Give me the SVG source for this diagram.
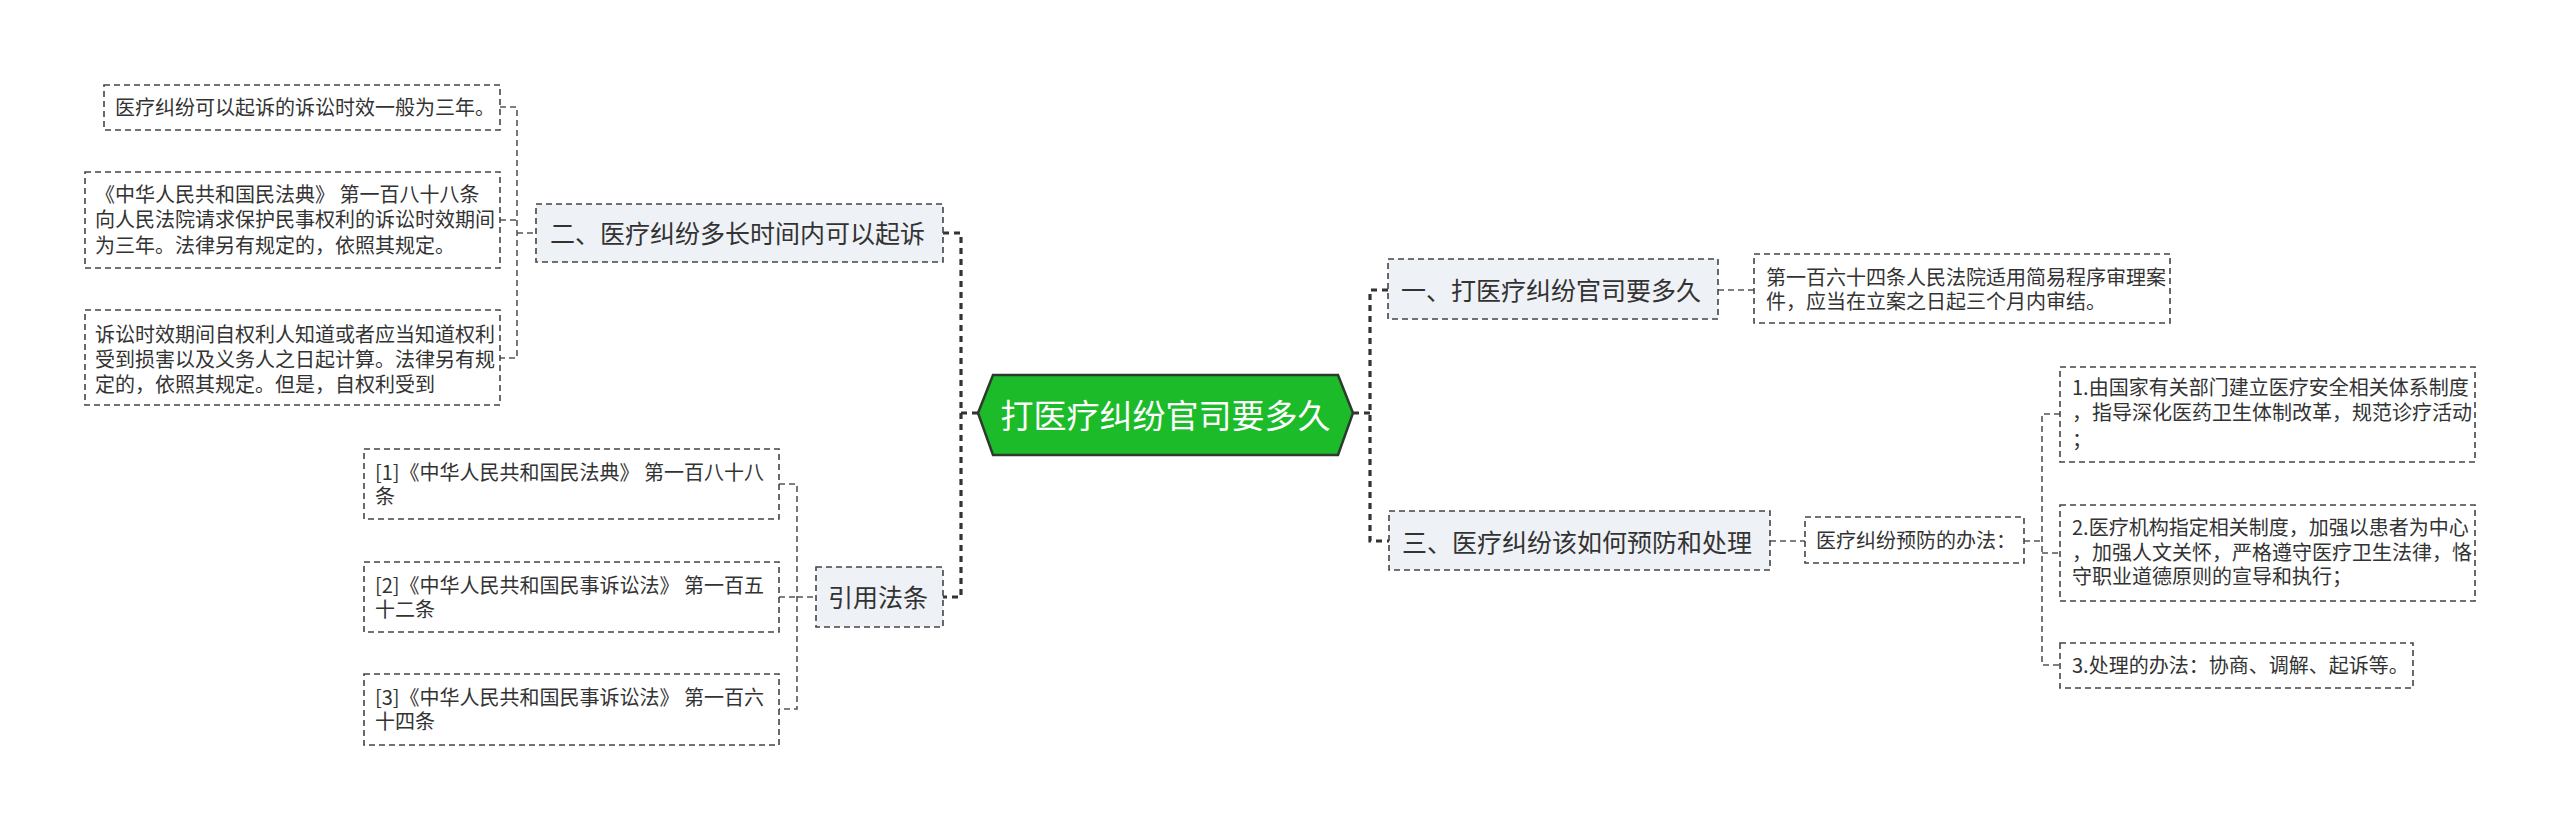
<svg xmlns="http://www.w3.org/2000/svg" width="2560" height="830" viewBox="0 0 2560 830">
<style>
text{font-family:"Noto Sans CJK SC","Noto Sans",sans-serif;fill:#333}
.l1 rect{fill:#eef1f5;stroke:#444;stroke-width:1.6;stroke-dasharray:6 4}
.leaf rect{fill:#fff;stroke:#444;stroke-width:1.6;stroke-dasharray:6 4}
.l1 text{font-size:25px}
.leaf text{font-size:20px}
.thin{fill:none;stroke:#555;stroke-width:1.6;stroke-dasharray:6 4}
.thick{fill:none;stroke:#333;stroke-width:3.2;stroke-dasharray:6 5}
</style>
<rect width="2560" height="830" fill="#fff"/>
<g id="connectors">
<path class="thick" d="M943,233 H961 V597 H943 M961,413 H978"/>
<path class="thick" d="M1353,413 H1370 M1388,290 H1370 V541 H1389"/>
<path class="thin" d="M500,107 H517 V358 H500 M500,220 H517 M517,233 H536"/>
<path class="thin" d="M779,484 H797 V709 H779 M779,597 H797 M797,597 H816"/>
<path class="thin" d="M1718,290 H1754"/>
<path class="thin" d="M1770,541 H1805"/>
<path class="thin" d="M2024,541 H2042 M2060,414 H2042 V665 H2060 M2042,553 H2060"/>
</g>
<g id="root">
<polygon points="978,413 993,375 1338,375 1353,413 1338,455 993,455" fill="#1cbb2a" stroke="#2d3a2d" stroke-width="2.5"/>
<text x="1165.5" y="428" text-anchor="middle" style="font-size:33px;fill:#fff">打医疗纠纷官司要多久</text>
</g>
<g id="n2" class="l1">
<rect x="536" y="204" width="407" height="58"/>
<text x="550" y="243">二、医疗纠纷多长时间内可以起诉</text>
</g>
<g id="n2a" class="leaf">
<rect x="104" y="85" width="396" height="45"/>
<text x="115" y="115">医疗纠纷可以起诉的诉讼时效一般为三年。</text>
</g>
<g id="n2b" class="leaf">
<rect x="85" y="172" width="415" height="96"/>
<text x="95" y="202">《中华人民共和国民法典》 第一百八十八条</text>
<text x="95" y="227">向人民法院请求保护民事权利的诉讼时效期间</text>
<text x="95" y="253">为三年。法律另有规定的，依照其规定。</text>
</g>
<g id="n2c" class="leaf">
<rect x="85" y="310" width="415" height="95"/>
<text x="95" y="342">诉讼时效期间自权利人知道或者应当知道权利</text>
<text x="95" y="367">受到损害以及义务人之日起计算。法律另有规</text>
<text x="95" y="392">定的，依照其规定。但是，自权利受到</text>
</g>
<g id="ref" class="l1">
<rect x="816" y="567" width="127" height="60"/>
<text x="828" y="607">引用法条</text>
</g>
<g id="ref1" class="leaf">
<rect x="364" y="449" width="415" height="70"/>
<text x="375" y="480">[1]《中华人民共和国民法典》 第一百八十八</text>
<text x="375" y="504">条</text>
</g>
<g id="ref2" class="leaf">
<rect x="364" y="562" width="415" height="70"/>
<text x="375" y="593">[2]《中华人民共和国民事诉讼法》 第一百五</text>
<text x="375" y="617">十二条</text>
</g>
<g id="ref3" class="leaf">
<rect x="364" y="674" width="415" height="71"/>
<text x="375" y="705">[3]《中华人民共和国民事诉讼法》 第一百六</text>
<text x="375" y="729">十四条</text>
</g>
<g id="n1" class="l1">
<rect x="1388" y="259" width="330" height="60"/>
<text x="1401" y="300">一、打医疗纠纷官司要多久</text>
</g>
<g id="n1a" class="leaf">
<rect x="1754" y="254" width="416" height="69"/>
<text x="1766" y="285">第一百六十四条人民法院适用简易程序审理案</text>
<text x="1766" y="309">件，应当在立案之日起三个月内审结。</text>
</g>
<g id="n3" class="l1">
<rect x="1389" y="511" width="381" height="59"/>
<text x="1402" y="552">三、医疗纠纷该如何预防和处理</text>
</g>
<g id="n3a" class="leaf">
<rect x="1805" y="517" width="219" height="46"/>
<text x="1816" y="548">医疗纠纷预防的办法：</text>
</g>
<g id="n3a1" class="leaf">
<rect x="2060" y="367" width="415" height="95"/>
<text x="2072" y="395">1.由国家有关部门建立医疗安全相关体系制度</text>
<text x="2072" y="420">，指导深化医药卫生体制改革，规范诊疗活动</text>
<text x="2072" y="447">；</text>
</g>
<g id="n3a2" class="leaf">
<rect x="2060" y="505" width="415" height="96"/>
<text x="2072" y="535">2.医疗机构指定相关制度，加强以患者为中心</text>
<text x="2072" y="560">，加强人文关怀，严格遵守医疗卫生法律，恪</text>
<text x="2072" y="584">守职业道德原则的宣导和执行；</text>
</g>
<g id="n3a3" class="leaf">
<rect x="2060" y="643" width="353" height="45"/>
<text x="2072" y="673">3.处理的办法：协商、调解、起诉等。</text>
</g>
</svg>
